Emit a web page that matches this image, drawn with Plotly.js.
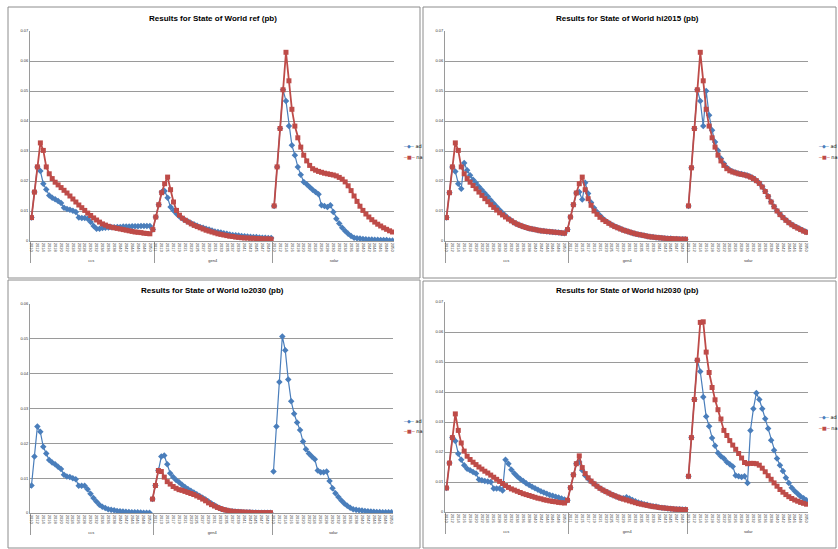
<!DOCTYPE html>
<html><head><meta charset="utf-8">
<script src="https://cdn.plot.ly/plotly-3.0.1.min.js"></script>
<style>html,body{margin:0;padding:0;background:#fff}#c{width:838px;height:549px}</style>
</head><body><div id="c"></div>
<script>
// ---- categories / tick labels ----
const groups = ['ccs', 'gen4', 'solar'];
const years = ['2010','2011','2012','2013','2014','2015','2016','2017','2018','2019','2020','2021','2022','2023','2024','2025','2026','2027','2028','2029','2030','2031','2032','2033','2034','2035','2036','2037','2038','2039','2040','2041','2042','2043','2044','2045','2046','2047','2048','2049','2050'];
const seriesNames = ['ad', 'na'];
const panelTitles = ['Results for State of World ref (pb)', 'Results for State of World hi2015 (pb)', 'Results for State of World lo2030 (pb)', 'Results for State of World hi2030 (pb)'];

// ---- ref ----
const ref_ad_ccs = [0.0078,0.0163,0.0247,0.0233,0.0191,0.0172,0.0152,0.0144,0.0139,0.0133,0.0127,0.0111,0.0107,0.0104,0.0101,0.0097,0.0078,0.0077,0.0077,0.0074,0.0063,0.0050,0.0041,0.0041,0.0043,0.0044,0.0045,0.0046,0.0046,0.0047,0.0047,0.0048,0.0048,0.0048,0.0049,0.0049,0.0049,0.0050,0.0050,0.0050,0.0050];
const ref_ad_gen4 = [0.0038,0.0080,0.0121,0.0163,0.0167,0.0144,0.0113,0.0102,0.0091,0.0082,0.0075,0.0069,0.0064,0.0059,0.0055,0.0051,0.0047,0.0044,0.0041,0.0038,0.0035,0.0032,0.0030,0.0028,0.0026,0.0024,0.0022,0.0020,0.0019,0.0018,0.0017,0.0016,0.0015,0.0014,0.0013,0.0013,0.0012,0.0011,0.0011,0.0010,0.0010];
const ref_ad_solar = [0.0117,0.0247,0.0375,0.0504,0.0467,0.0383,0.0319,0.0286,0.0247,0.0221,0.0197,0.0189,0.0180,0.0171,0.0163,0.0156,0.0119,0.0117,0.0113,0.0119,0.0097,0.0074,0.0058,0.0044,0.0033,0.0024,0.0017,0.0011,0.0009,0.0008,0.0007,0.0006,0.0005,0.0005,0.0004,0.0004,0.0003,0.0003,0.0003,0.0002,0.0002];
const ref_na_ccs = [0.0078,0.0163,0.0247,0.0327,0.0302,0.0247,0.0224,0.0208,0.0196,0.0187,0.0178,0.0169,0.0160,0.0150,0.0140,0.0130,0.0120,0.0111,0.0102,0.0093,0.0085,0.0077,0.0070,0.0063,0.0057,0.0053,0.0049,0.0046,0.0044,0.0042,0.0040,0.0038,0.0036,0.0034,0.0032,0.0030,0.0029,0.0028,0.0026,0.0025,0.0024];
const ref_na_gen4 = [0.0038,0.0080,0.0121,0.0161,0.0191,0.0213,0.0171,0.0130,0.0102,0.0086,0.0076,0.0069,0.0063,0.0057,0.0052,0.0048,0.0044,0.0040,0.0036,0.0033,0.0030,0.0027,0.0024,0.0022,0.0020,0.0018,0.0016,0.0015,0.0013,0.0012,0.0011,0.0010,0.0010,0.0009,0.0009,0.0008,0.0008,0.0007,0.0007,0.0007,0.0006];
const ref_na_solar = [0.0117,0.0247,0.0375,0.0504,0.0629,0.0534,0.0439,0.0383,0.0344,0.0313,0.0286,0.0267,0.0252,0.0241,0.0236,0.0232,0.0229,0.0226,0.0224,0.0222,0.0220,0.0217,0.0212,0.0206,0.0197,0.0184,0.0168,0.0150,0.0132,0.0116,0.0102,0.0090,0.0080,0.0071,0.0063,0.0056,0.0050,0.0044,0.0039,0.0034,0.0030];

// ---- hi2015 ----
const hi2015_ad_ccs = [0.0078,0.0161,0.0247,0.0232,0.0191,0.0174,0.0260,0.0236,0.0219,0.0204,0.0193,0.0181,0.0170,0.0159,0.0148,0.0136,0.0125,0.0114,0.0103,0.0093,0.0084,0.0075,0.0068,0.0061,0.0056,0.0052,0.0048,0.0045,0.0042,0.0040,0.0038,0.0036,0.0034,0.0033,0.0032,0.0031,0.0030,0.0029,0.0028,0.0027,0.0026];
const hi2015_ad_gen4 = [0.0038,0.0080,0.0121,0.0160,0.0163,0.0138,0.0194,0.0158,0.0128,0.0110,0.0097,0.0085,0.0075,0.0067,0.0060,0.0054,0.0049,0.0045,0.0041,0.0037,0.0033,0.0030,0.0027,0.0024,0.0022,0.0020,0.0018,0.0016,0.0014,0.0013,0.0012,0.0011,0.0010,0.0009,0.0008,0.0008,0.0007,0.0007,0.0006,0.0006,0.0006];
const hi2015_ad_solar = [0.0117,0.0244,0.0375,0.0504,0.0467,0.0383,0.0500,0.0419,0.0369,0.0330,0.0302,0.0275,0.0258,0.0245,0.0237,0.0232,0.0228,0.0225,0.0223,0.0221,0.0218,0.0214,0.0209,0.0202,0.0193,0.0181,0.0166,0.0149,0.0131,0.0115,0.0101,0.0089,0.0079,0.0070,0.0062,0.0055,0.0049,0.0044,0.0039,0.0034,0.0030];
const hi2015_na_ccs = [0.0078,0.0161,0.0247,0.0327,0.0302,0.0247,0.0224,0.0208,0.0196,0.0185,0.0174,0.0163,0.0152,0.0141,0.0131,0.0121,0.0112,0.0103,0.0094,0.0087,0.0080,0.0073,0.0067,0.0061,0.0056,0.0052,0.0048,0.0045,0.0042,0.0040,0.0038,0.0036,0.0034,0.0033,0.0032,0.0031,0.0030,0.0029,0.0028,0.0027,0.0026];
const hi2015_na_gen4 = [0.0038,0.0080,0.0121,0.0160,0.0191,0.0213,0.0171,0.0141,0.0119,0.0100,0.0089,0.0079,0.0071,0.0065,0.0059,0.0053,0.0048,0.0044,0.0040,0.0036,0.0033,0.0030,0.0027,0.0024,0.0022,0.0020,0.0018,0.0016,0.0014,0.0013,0.0012,0.0011,0.0010,0.0009,0.0008,0.0008,0.0007,0.0007,0.0006,0.0006,0.0006];
const hi2015_na_solar = [0.0117,0.0244,0.0375,0.0504,0.0629,0.0534,0.0439,0.0383,0.0344,0.0313,0.0286,0.0267,0.0252,0.0241,0.0234,0.0230,0.0227,0.0224,0.0222,0.0220,0.0217,0.0213,0.0208,0.0201,0.0192,0.0180,0.0165,0.0148,0.0130,0.0114,0.0100,0.0088,0.0078,0.0069,0.0061,0.0054,0.0048,0.0043,0.0038,0.0033,0.0029];

// ---- lo2030 ----
const lo2030_ad_ccs = [0.0079,0.0162,0.0248,0.0233,0.0190,0.0171,0.0152,0.0145,0.0140,0.0133,0.0126,0.0110,0.0105,0.0103,0.0100,0.0097,0.0078,0.0078,0.0078,0.0068,0.0055,0.0043,0.0033,0.0024,0.0018,0.0014,0.0011,0.0009,0.0008,0.0006,0.0005,0.0004,0.00035,0.0003,0.00025,0.0002,0.0002,0.00015,0.0001,0.0001,0.0001];
const lo2030_ad_gen4 = [0.0040,0.0079,0.0122,0.0162,0.0165,0.0140,0.0114,0.0103,0.0095,0.0088,0.0081,0.0075,0.0069,0.0064,0.0059,0.0054,0.0049,0.0044,0.0039,0.0033,0.0027,0.0022,0.0017,0.0013,0.0010,0.0008,0.0006,0.0005,0.0004,0.00035,0.0003,0.00025,0.0002,0.0002,0.00015,0.00015,0.0001,0.0001,0.0001,0.0001,0.0001];
const lo2030_ad_solar = [0.0119,0.0248,0.0376,0.0507,0.0467,0.0383,0.0321,0.0285,0.0260,0.0238,0.0205,0.0183,0.0171,0.0162,0.0154,0.0122,0.0117,0.0117,0.0119,0.0092,0.0071,0.0057,0.0046,0.0036,0.0027,0.0021,0.0015,0.0011,0.0009,0.0008,0.0007,0.0006,0.0005,0.0004,0.00035,0.0003,0.0003,0.00025,0.0002,0.0002,0.0002];
const lo2030_na_gen4 = [0.0040,0.0079,0.0122,0.0119,0.0103,0.0090,0.0083,0.0076,0.0071,0.0067,0.0065,0.0062,0.0059,0.0056,0.0053,0.0049,0.0045,0.0040,0.0035,0.0029,0.0024,0.0020,0.0016,0.0013,0.0010,0.0008,0.0006,0.0005,0.0004,0.00035,0.0003,0.00025,0.0002,0.0002,0.00015,0.00015,0.0001,0.0001,0.0001,0.0001,0.0001];

// ---- hi2030 ----
const hi2030_ad_ccs = [0.0080,0.0163,0.0248,0.0237,0.0194,0.0174,0.0156,0.0144,0.0139,0.0133,0.0128,0.0108,0.0106,0.0103,0.0102,0.0100,0.0078,0.0078,0.0078,0.0072,0.0174,0.0161,0.0141,0.0128,0.0118,0.0110,0.0103,0.0096,0.0090,0.0084,0.0079,0.0074,0.0069,0.0065,0.0061,0.0057,0.0054,0.0051,0.0048,0.0045,0.0042];
const hi2030_ad_gen4 = [0.0039,0.0081,0.0124,0.0161,0.0167,0.0139,0.0122,0.0111,0.0102,0.0094,0.0086,0.0079,0.0073,0.0068,0.0063,0.0058,0.0054,0.0050,0.0047,0.0046,0.0049,0.0045,0.0040,0.0036,0.0032,0.0029,0.0026,0.0024,0.0021,0.0019,0.0018,0.0016,0.0014,0.0013,0.0012,0.0011,0.0010,0.0009,0.0009,0.0008,0.0008];
const hi2030_ad_solar = [0.0119,0.0248,0.0375,0.0506,0.0468,0.0383,0.0318,0.0286,0.0247,0.0221,0.0197,0.0186,0.0178,0.0167,0.0159,0.0152,0.0122,0.0119,0.0117,0.0119,0.0097,0.0272,0.0344,0.0397,0.0375,0.0344,0.0311,0.0278,0.0239,0.0206,0.0178,0.0156,0.0137,0.0114,0.0097,0.0081,0.0070,0.0061,0.0052,0.0046,0.0039];
const hi2030_na_ccs = [0.0080,0.0163,0.0248,0.0327,0.0272,0.0230,0.0203,0.0186,0.0175,0.0166,0.0158,0.0150,0.0143,0.0136,0.0130,0.0123,0.0116,0.0109,0.0102,0.0095,0.0088,0.0082,0.0077,0.0073,0.0069,0.0065,0.0061,0.0058,0.0055,0.0052,0.0049,0.0046,0.0044,0.0041,0.0039,0.0037,0.0035,0.0034,0.0032,0.0031,0.0030];
const hi2030_na_gen4 = [0.0039,0.0081,0.0124,0.0161,0.0187,0.0148,0.0128,0.0114,0.0103,0.0094,0.0086,0.0079,0.0073,0.0068,0.0063,0.0058,0.0054,0.0050,0.0046,0.0043,0.0040,0.0037,0.0034,0.0031,0.0028,0.0026,0.0024,0.0022,0.0020,0.0018,0.0017,0.0015,0.0014,0.0013,0.0012,0.0011,0.0010,0.0009,0.0009,0.0008,0.0008];
const hi2030_na_solar = [0.0119,0.0248,0.0375,0.0506,0.0632,0.0634,0.0533,0.0465,0.0415,0.0374,0.0341,0.0310,0.0272,0.0255,0.0238,0.0223,0.0209,0.0195,0.0180,0.0165,0.0161,0.0162,0.0162,0.0161,0.0156,0.0146,0.0134,0.0121,0.0109,0.0097,0.0086,0.0075,0.0066,0.0058,0.0051,0.0045,0.0040,0.0036,0.0032,0.0029,0.0026];

const yMax = [0.07, 0.07, 0.06, 0.07];

const panels = [
  { ad: [ref_ad_ccs, ref_ad_gen4, ref_ad_solar], na: [ref_na_ccs, ref_na_gen4, ref_na_solar] },
  { ad: [hi2015_ad_ccs, hi2015_ad_gen4, hi2015_ad_solar], na: [hi2015_na_ccs, hi2015_na_gen4, hi2015_na_solar] },
  { ad: [lo2030_ad_ccs, lo2030_ad_gen4, lo2030_ad_solar], na: [null, lo2030_na_gen4, null] },
  { ad: [hi2030_ad_ccs, hi2030_ad_gen4, hi2030_ad_solar], na: [hi2030_na_ccs, hi2030_na_gen4, hi2030_na_solar] }
];

const W = 838, H = 549;
const BLUE = '#4A7EBB', RED = '#BE4B48', GRID = '#9a9a9a';
// plot-area pixel boxes [left, right, top, bottom]
const boxes = [[30, 394, 31, 241], [445, 808, 31, 241], [30, 393, 304, 513], [445, 808, 302, 512]];
const frames = [[8, 420, 7, 278], [423, 836, 7, 278], [8, 420, 280, 548], [423, 836, 281, 548]];
const titleY = [18, 18, 291, 290];
// legend: left x, y of first and second entry (px)
const legendPos = [[401, 146, 157], [816, 146, 157], [401, 421, 431], [816, 417, 428]];

const traces = [];
const layout = {
  width: W, height: H, margin: {l: 0, r: 0, t: 0, b: 0, autoexpand: false},
  paper_bgcolor: '#fff', plot_bgcolor: '#fff', showlegend: false,
  font: {family: 'Liberation Sans, Arial, sans-serif', color: '#000'},
  annotations: [], shapes: []
};

panels.forEach((p, k) => {
  const n = k + 1;
  const xa = 'xaxis' + (n === 1 ? '' : n), ya = 'yaxis' + (n === 1 ? '' : n);
  const xr = 'x' + (n === 1 ? '' : n), yr = 'y' + (n === 1 ? '' : n);
  const b = boxes[k];
  [['ad', BLUE, 'diamond', 5, 1.2], ['na', RED, 'square', 5, 1.8]].forEach(([s, col, sym, ms, lw]) => {
    groups.forEach((g, gi) => {
      const vals = p[s][gi];
      if (!vals) return;
      traces.push({
        type: 'scatter', mode: 'lines+markers', name: s, showlegend: false, xaxis: xr, yaxis: yr,
        x: [years.map(() => g), years], y: vals,
        line: {color: col, width: lw}, marker: {symbol: sym, size: ms, color: col}
      });
    });
  });
  layout[xa] = {
    type: 'multicategory', domain: [b[0] / W, b[1] / W], anchor: yr,
    range: [-0.5, groups.length * years.length - 0.5], autorange: false,
    showline: true, linecolor: GRID, linewidth: 1, showgrid: false, zeroline: false,
    tickfont: {size: 4, color: '#333'}, tickangle: 90, ticks: '',
    showdividers: true, dividercolor: GRID, dividerwidth: 1
  };
  layout[ya] = {
    domain: [(H - b[3]) / H, (H - b[2]) / H], anchor: xr, range: [0, yMax[k]], dtick: 0.01,
    showline: true, linecolor: GRID, linewidth: 1, showgrid: true, gridcolor: GRID, gridwidth: 1,
    zeroline: false, tickfont: {size: 4, color: '#333'}, ticks: '', fixedrange: true
  };
  // legend entries (series names) as text
  const lp = legendPos[k];
  [[seriesNames[0], BLUE, '\u25C6', lp[1]], [seriesNames[1], RED, '\u25A0', lp[2]]].forEach(([nm, col, glyph, yy]) => {
    layout.annotations.push({
      xref: 'paper', yref: 'paper', x: lp[0] / W, y: (H - yy) / H, xanchor: 'left', yanchor: 'middle',
      showarrow: false, align: 'left',
      text: '<span style="color:' + col + '">\u2500' + glyph + '\u2500</span> ' + nm,
      font: {family: 'DejaVu Sans, Liberation Sans, sans-serif', size: 5, color: '#000'}
    });
  });
  layout.annotations.push({
    xref: 'paper', yref: 'paper', x: ((b[0] + b[1]) / 2 + 1) / W, y: (H - titleY[k]) / H,
    text: '<b>' + panelTitles[k] + '</b>', showarrow: false, xanchor: 'center', yanchor: 'middle',
    font: {family: 'Liberation Sans, Arial, sans-serif', size: 8, color: '#000'}
  });
  const f = frames[k];
  layout.shapes.push({
    type: 'rect', xref: 'paper', yref: 'paper', x0: f[0] / W, x1: f[1] / W, y0: (H - f[3]) / H, y1: (H - f[2]) / H,
    line: {color: '#8c8c8c', width: 1}, fillcolor: 'rgba(0,0,0,0)', layer: 'below'
  });
});

Plotly.newPlot('c', traces, layout, {staticPlot: true, displayModeBar: false});
</script></body></html>
